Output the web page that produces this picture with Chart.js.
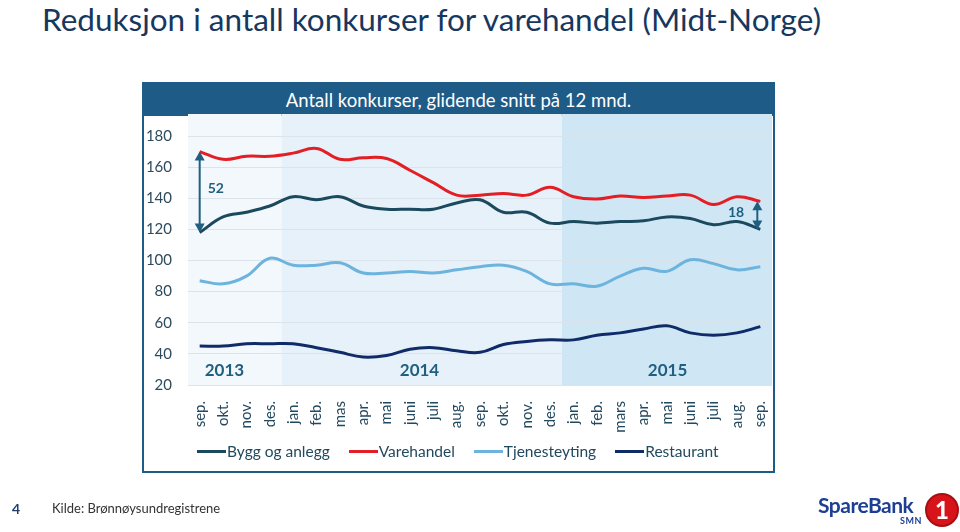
<!DOCTYPE html>
<html>
<head>
<meta charset="utf-8">
<script src="https://cdn.jsdelivr.net/npm/chart.js@4.4.0/dist/chart.umd.min.js"></script>
<style>
    body { margin: 0; width: 960px; height: 532px; position: relative; background: #fff; overflow: hidden; font-family: Lato, 'Noto Sans', sans-serif; }
    #title { position: absolute; left: 42px; top: 0px; font-size: 31.5px; line-height: 38px; color: #17375e; white-space: nowrap; }
    #box { position: absolute; left: 142px; top: 82px; width: 629px; height: 387px; border: 2px solid #1f5b87; }
    #header { position: absolute; left: 0; top: 0; right: 0; height: 32px; background: #1f5b87; color: #fff; font-size: 18.5px; line-height: 32px; text-align: center; }
    #chart { position: absolute; left: 0; top: 0; }
    #legend { position: absolute; left: 197px; top: 441px; display: flex; font-size: 15.5px; line-height: 20px; color: #23495e; }
    #legend .item { display: flex; align-items: center; margin-right: 19px; }
    #legend .swatch { width: 29px; height: 3px; margin-right: 1px; }
    #page { position: absolute; left: 12px; top: 500px; font-size: 14px; font-weight: bold; color: #1f3f6b; }
    #source { position: absolute; left: 52px; top: 500px; font-size: 13px; color: #333; }
    #logo { position: absolute; left: 818px; top: 492px; width: 140px; height: 36px; }
    #logo .name { position: absolute; left: 0; top: 0; font-size: 21px; font-weight: bold; color: #1c3f94; letter-spacing: -0.5px; }
    #logo .smn { position: absolute; left: 82px; top: 23px; font-size: 9px; font-weight: bold; color: #1c3f94; letter-spacing: 0.5px; }
    #logo .one { position: absolute; left: 107px; top: 1px; width: 30px; height: 30px; border-radius: 50%; background: #d7141a; border: 2px solid #a80f14; color: #fff; font-size: 24px; font-weight: 900; text-align: center; line-height: 30px; }
</style>
</head>
<body>
<div id="title">Reduksjon i antall konkurser for varehandel (Midt-Norge)</div>
<div id="box"><div id="header">Antall konkurser, glidende snitt på 12 mnd.</div></div>
<canvas id="chart" width="960" height="532"></canvas>
<div id="legend"></div>
<div id="page">4</div>
<div id="source">Kilde: Brønnøysundregistrene</div>
<div id="logo"><span class="name">SpareBank</span><span class="smn">SMN</span><div class="one">1</div></div>

<script>
// måneder sep. 2013 - sep. 2015
const months = ['sep.', 'okt.', 'nov.', 'des.', 'jan.', 'feb.', 'mas', 'apr.', 'mai', 'juni', 'juli', 'aug.',
    'sep.', 'okt.', 'nov.', 'des.', 'jan.', 'feb.', 'mars', 'apr.', 'mai', 'juni', 'juli', 'aug.', 'sep.'];

const seriesNames = ['Bygg og anlegg', 'Varehandel', 'Tjenesteyting', 'Restaurant'];
const seriesColors = ['#1b4a5e', '#e31e24', '#6cb4de', '#0f2b68'];

const bygg = [118, 128, 131, 135, 141, 139, 141, 135, 133, 133, 133, 137, 139, 131, 131, 124, 125, 124, 125, 125.5, 128, 127, 123, 125, 120];
const varehandel = [170, 165, 167, 167, 169, 172, 165, 166, 165.5, 158, 150, 142, 142, 143, 142, 147, 141, 139.5, 141.5, 140.5, 141.5, 142, 136, 141, 138];
const tjenesteyting = [87, 85, 90, 101.5, 97, 97, 98.5, 92, 92, 93, 92, 94, 96, 97, 93, 85, 85, 83.5, 90, 95, 93, 100.5, 98, 94, 96];
const restaurant = [45, 45, 46.5, 46.5, 46.5, 44, 41, 38, 39, 43, 44, 42, 41, 46, 48, 49, 49, 52, 53.5, 56, 58, 53.5, 52, 53.5, 57.5];

const yTicks = [20, 40, 60, 80, 100, 120, 140, 160, 180];

// årsbånd: første og siste månedsindeks
const years = ['2013', '2014', '2015'];
const yearStart = [0, 4, 16];
const yearEnd = [3, 15, 24];
const yearLabelPos = [1.06, 9.41, 20.03];
const bandColors = ['#f3f8fc', '#e6f1f9', '#cfe6f5'];

const seriesData = [bygg, varehandel, tjenesteyting, restaurant];

const legend = document.getElementById('legend');
seriesNames.forEach((name, i) => {
    const item = document.createElement('div');
    item.className = 'item';
    item.innerHTML = `<span class="swatch" style="background:${seriesColors[i]}"></span><span>${name}</span>`;
    legend.appendChild(item);
});

function drawArrow(ctx, x, y1, y2) {
    ctx.beginPath();
    ctx.moveTo(x, y1 + 2);
    ctx.lineTo(x, y2 - 2);
    ctx.stroke();
    [[y1, 1], [y2, -1]].forEach(([y, d]) => {
        ctx.beginPath();
        ctx.moveTo(x, y);
        ctx.lineTo(x - 5, y + d * 9);
        ctx.lineTo(x + 5, y + d * 9);
        ctx.closePath();
        ctx.fill();
    });
}

const decor = {
    id: 'decor',
    beforeDraw(chart) {
        const { ctx, chartArea, scales } = chart;
        const x = scales.x;
        const half = (x.getPixelForValue(1) - x.getPixelForValue(0)) / 2;
        ctx.save();
        years.forEach((y, i) => {
            const left = x.getPixelForValue(yearStart[i]) - half;
            const right = x.getPixelForValue(yearEnd[i]) + half;
            ctx.fillStyle = bandColors[i];
            ctx.fillRect(left, 114, right - left, chartArea.bottom - 114);
        });
        ctx.restore();
    },
    afterDatasetsDraw(chart) {
        const { ctx, scales } = chart;
        const x = scales.x, y = scales.y;
        ctx.save();
        ctx.fillStyle = '#1f5f80';
        ctx.font = 'bold 17px Lato, sans-serif';
        ctx.textAlign = 'center';
        ctx.textBaseline = 'middle';
        years.forEach((yr, i) => {
            ctx.fillText(yr, x.getPixelForValue(yearLabelPos[i]), y.getPixelForValue(29));
        });

        // differanse varehandel - bygg, første og siste måned
        ctx.strokeStyle = '#1f5f80';
        ctx.lineWidth = 2;
        const last = months.length - 1;
        drawArrow(ctx, x.getPixelForValue(0), y.getPixelForValue(varehandel[0]), y.getPixelForValue(bygg[0]));
        drawArrow(ctx, x.getPixelForValue(last) - 3, y.getPixelForValue(varehandel[last]), y.getPixelForValue(bygg[last]));
        ctx.font = 'bold 14px Lato, sans-serif';
        ctx.textAlign = 'left';
        ctx.fillText(String(varehandel[0] - bygg[0]), x.getPixelForValue(0) + 8, y.getPixelForValue(146.5));
        ctx.textAlign = 'center';
        ctx.fillText(String(varehandel[last] - bygg[last]), x.getPixelForValue(22.96), y.getPixelForValue(131));
        ctx.restore();
    }
};

new Chart(document.getElementById('chart'), {
    type: 'line',
    data: {
        labels: months,
        datasets: seriesNames.map((name, i) => ({
            label: name,
            data: seriesData[i],
            borderColor: seriesColors[i],
            backgroundColor: seriesColors[i],
            borderWidth: 3,
            pointRadius: 0,
            tension: 0.4,
            fill: false
        }))
    },
    options: {
        responsive: false,
        animation: false,
        layout: { padding: { left: 140, right: 188, top: 136, bottom: 97 } },
        plugins: { legend: { display: false }, tooltip: { enabled: false } },
        scales: {
            x: {
                offset: true,
                grid: { display: false },
                border: { display: false },
                ticks: {
                    autoSkip: false,
                    minRotation: 90,
                    maxRotation: 90,
                    padding: 8,
                    color: '#23495e',
                    font: { family: 'Lato', size: 15 }
                },
                afterFit: s => { s.height = 50; }
            },
            y: {
                min: 20,
                max: 180,
                afterBuildTicks: s => { s.ticks = yTicks.map(v => ({ value: v })); },
                grid: { color: '#dce3ea', lineWidth: 1, drawTicks: false },
                border: { display: false },
                ticks: {
                    padding: 16,
                    color: '#2e4a5c',
                    font: { family: 'Lato', size: 15 }
                },
                afterFit: s => { s.width = 48; }
            }
        }
    },
    plugins: [decor]
});
</script>
</body>
</html>
